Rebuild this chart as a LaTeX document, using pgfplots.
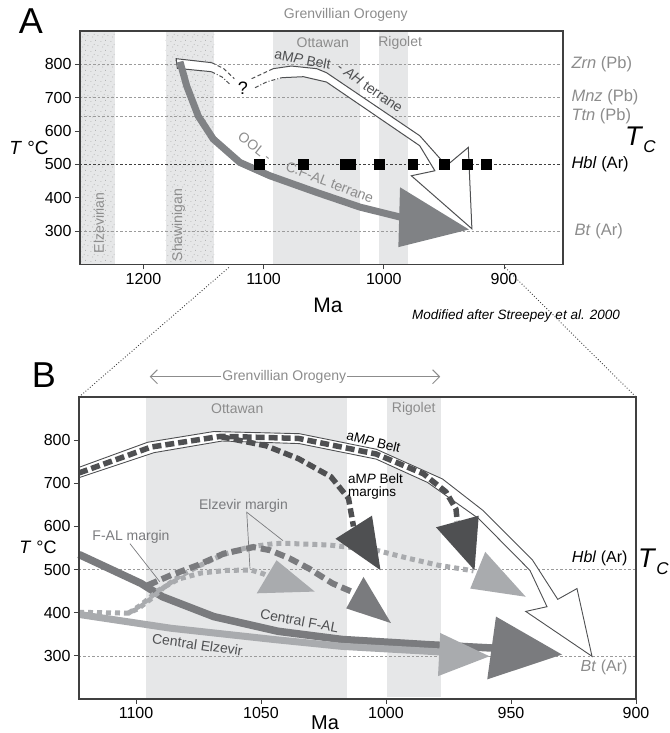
\documentclass[border=0pt]{standalone}
\usepackage{pgfplots}
\pgfplotsset{compat=1.18}
\usepackage{fontspec}
\setmainfont{Liberation Sans}
\usetikzlibrary{arrows.meta,patterns}
\definecolor{band}{HTML}{E6E7E8}
\definecolor{reflin}{HTML}{9B9B9B}
\definecolor{txtgray}{HTML}{8C8C8C}
\definecolor{dkg}{HTML}{4F5052}
\definecolor{mdg}{HTML}{7A7B7E}
\definecolor{ltg}{HTML}{A9ABAE}
\definecolor{agray}{HTML}{808285}
\definecolor{axg}{HTML}{404040}
\pgfdeclarepatternformonly{sparsedots}{\pgfqpoint{0pt}{0pt}}{\pgfqpoint{10pt}{10pt}}{\pgfqpoint{10pt}{10pt}}{%
  \pgfpathcircle{\pgfqpoint{1pt}{1.5pt}}{0.4pt}%
  \pgfpathcircle{\pgfqpoint{6pt}{3pt}}{0.4pt}%
  \pgfpathcircle{\pgfqpoint{3pt}{6.5pt}}{0.4pt}%
  \pgfpathcircle{\pgfqpoint{8.5pt}{8pt}}{0.4pt}%
  \pgfpathcircle{\pgfqpoint{4.5pt}{9.5pt}}{0.4pt}%
  \pgfusepath{fill}}
\newcommand{\fs}[1]{\fontsize{#1}{#1}\selectfont}
\begin{document}
\begin{tikzpicture}
\useasboundingbox (0pt,0pt) rectangle (669pt,-733pt);
\pgfplotsset{base/.style={scale only axis, x dir=reverse, ymin=200, ymax=900, clip=false,
  axis line style={axg, line width=1.2pt}, tick style={axg, line width=0.9pt},
  tick align=outside, major tick length=5pt, tick pos=left,
  tick label style={font=\fs{16}},
  /pgf/number format/assume math mode=true,
  /pgf/number format/set thousands separator={},
  ytick={300,400,...,800}, axis on top}}

% ================= PANEL A =================
\begin{axis}[base, at={(80pt,-31pt)}, anchor=north west, width=483pt, height=233.5pt,
  xmin=850.9, xmax=1252.8, xtick={900,1000,1100,1200}]
% bands
\addplot[draw=none, fill=band] coordinates {(1252.8,200)(1224,200)(1224,900)(1252.8,900)};
\addplot[draw=none, pattern=sparsedots, pattern color=gray] coordinates {(1252.8,200)(1224,200)(1224,900)(1252.8,900)};
\addplot[draw=none, fill=band] coordinates {(1181.5,200)(1141,200)(1141,900)(1181.5,900)};
\addplot[draw=none, pattern=sparsedots, pattern color=gray] coordinates {(1181.5,200)(1141,200)(1141,900)(1181.5,900)};
\addplot[draw=none, fill=band] coordinates {(1092,200)(1020,200)(1020,900)(1092,900)};
\addplot[draw=none, fill=band] coordinates {(1004,200)(980,200)(980,900)(1004,900)};
% reference lines
\addplot[reflin, dash pattern=on 2.5pt off 2pt, line width=0.6pt] coordinates {(1252.8,800)(850.9,800)};
\addplot[reflin, dash pattern=on 2.5pt off 2pt, line width=0.6pt] coordinates {(1252.8,700)(850.9,700)};
\addplot[reflin, dash pattern=on 2.5pt off 2pt, line width=0.6pt] coordinates {(1252.8,645)(850.9,645)};
\addplot[reflin, dash pattern=on 2.5pt off 2pt, line width=0.6pt] coordinates {(1252.8,300)(850.9,300)};
\addplot[black!75, dash pattern=on 2.5pt off 2pt, line width=0.8pt] coordinates {(1252.8,500)(850.9,500)};
% band labels
\node[txtgray, font=\fs{14}] at (axis cs:1050.8,865) {Ottawan};
\node[txtgray, font=\fs{14}] at (axis cs:986.4,865) {Rigolet};
\node[txtgray, font=\fs{14}, rotate=90] at (axis cs:1237,325) {Elzevirian};
\node[txtgray, font=\fs{14}, rotate=90] at (axis cs:1170.8,318) {Shawinigan};
% white outlined arrow (aMP Belt - AH terrane)
\addplot[draw=none, fill=white] coordinates {(1172.8,817)(1143.2,805)(1124.4,755)(1110,757)(1092.1,787)(1077,795)(1055.8,787)(1047.7,775)(970.1,586)(947.9,496)(929.7,551)(926.7,307)(977.1,466)(957.5,481)(970.1,556)(1047.7,747)(1066.9,763)(1085,760)(1107.2,730)(1127.4,735)(1143.5,778)(1171.8,788)};
\addplot[dkg, line width=1pt, line join=miter] coordinates {(1092.1,787)(1077,795)(1055.8,787)(1047.7,775)(970.1,586)(947.9,496)(929.7,551)(926.7,307)(977.1,466)(957.5,481)(970.1,556)(1047.7,747)(1066.9,763)(1085,760)};
\addplot[dkg, line width=1pt] coordinates {(1143.2,805)(1172.8,817)(1171.8,788)(1143.5,778)};
\addplot[dkg, line width=1pt, dash pattern=on 4pt off 2.5pt] coordinates {(1143.2,805)(1133.5,788)(1124.4,757)};
\addplot[dkg, line width=1pt, dash pattern=on 4pt off 2pt on 1pt off 2pt] coordinates {(1143.5,778)(1134.5,762)(1127.4,738)};
\addplot[dkg, line width=1pt, dash pattern=on 4pt off 2.5pt] coordinates {(1110,757)(1101,772)(1092.1,787)};
\addplot[dkg, line width=1pt, dash pattern=on 4pt off 2pt on 1pt off 2pt] coordinates {(1107.2,730)(1097,748)(1085,760)};
\node[font=\fs{18}] at (axis cs:1117.3,727) {?};
% gray thick arrow (OOL - C.F-AL terrane)
\addplot[agray, line width=7pt, line join=round] coordinates {(1169.6,808)(1164,735)(1154.4,645)(1141.9,576)(1119.8,506)(1094.8,466)(1055.8,416)(1019.8,372)(986.2,342)(976,336)};
\addplot[draw=none, fill=agray] coordinates {(986.5,431.5)(929.2,305)(987.9,252)};
% Ar closure data
\addplot[only marks, mark=square*, mark size=4.8pt, black] coordinates {(1103.9,500)(1067.3,500)(1032.4,500)(1027.4,500)(1003.9,500)(975.8,500)(949.8,500)(930.6,500)(915,500)};
% path labels
\node[dkg, font=\fs{14}, rotate=-11] at (axis cs:1067.5,815) {aM\textit{P} Belt};
\node[dkg, font=\fs{14}, rotate=-35] at (axis cs:1011.5,730) {- \textit{AH} terrane};
\node[txtgray, font=\fs{14}, rotate=-38] at (axis cs:1107.2,553) {OOL -};
\node[txtgray, font=\fs{14}, rotate=-21] at (axis cs:1045,446) {C.F-AL terrane};
% right labels
\node[txtgray, anchor=west, font=\fs{16.5}] at (axis cs:850.9,800) {\hspace{5pt}\textit{Zrn} (Pb)};
\node[txtgray, anchor=west, font=\fs{16.5}] at (axis cs:850.9,700) {\hspace{5pt}\textit{Mnz} (Pb)};
\node[txtgray, anchor=west, font=\fs{16.5}] at (axis cs:850.9,645) {\hspace{5pt}\textit{Ttn} (Pb)};
\node[black, anchor=west, font=\fs{16.5}] at (axis cs:850.9,500) {\hspace{5pt}\textit{Hbl} (Ar)};
\node[txtgray, anchor=west, font=\fs{16.5}] at (axis cs:850.9,300) {\hspace{8pt}\textit{Bt} (Ar)};
\node[anchor=west, font=\fs{27}, inner sep=0pt] at (axis cs:850.9,575) {\hspace{62pt}\textit{T}\raisebox{-7pt}{\fs{17}\textit{C}}};
\node[txtgray, font=\fs{14}] at (axis cs:1031.6,949) {Grenvillian Orogeny};
\coordinate (Al) at (axis cs:1129,200);
\coordinate (Ar) at (axis cs:899,200);
\end{axis}
\node[font=\fs{36}] at (31pt,-21pt) {A};
\node[font=\fs{21}] at (328pt,-305pt) {Ma};
\node[font=\fs{19}] at (29pt,-148pt) {\textit{T} °C};
\node[font=\fs{13.5}\itshape] at (516pt,-316pt) {Modified after Streepey et al. 2000};

% ================= PANEL B =================
\begin{axis}[base, at={(79pt,-397pt)}, anchor=north west, width=557pt, height=302pt,
  xmin=900, xmax=1122.8, xtick={900,950,1000,1050,1100}]
\addplot[draw=none, fill=band] coordinates {(1095.9,200)(1015.6,200)(1015.6,900)(1095.9,900)};
\addplot[draw=none, fill=band] coordinates {(999.7,205)(977.8,205)(977.8,900)(999.7,900)};
\addplot[reflin, dash pattern=on 2.5pt off 2pt, line width=0.6pt] coordinates {(1122.8,500)(900,500)};
\addplot[reflin, dash pattern=on 2.5pt off 2pt, line width=0.6pt] coordinates {(1122.8,300)(900,300)};
\node[txtgray, font=\fs{14}] at (axis cs:1059.5,872) {Ottawan};
\node[txtgray, font=\fs{14}] at (axis cs:988.9,872) {Rigolet};
% Central F-AL
\addplot[mdg, line width=7.5pt, line join=round] coordinates {(1122.8,535)(1098,468)(1089.4,437)(1068.9,391)(1043.2,357)(1017.6,338)(983.4,326)(957,318)};
\addplot[draw=none, fill=mdg] coordinates {(956,391)(929.6,303)(959.5,245.5)};
% Central Elzevir
\addplot[ltg, line width=7pt, line join=round] coordinates {(1122.8,396)(1086,364)(1045,338)(1017.6,322)(978,309)};
\addplot[draw=none, fill=ltg] coordinates {(978.3,353)(958.6,299)(979.2,253)};
% Elzevir margin (upper, dotted)
\addplot[ltg, line width=5pt, dash pattern=on 5pt off 4pt] coordinates {(1122.8,401)(1103,399)(1099,410)(1094,432)(1089,458)(1083,483)(1075,508)(1065,535)(1055,552)(1045,560)(1041,561)(1023,557)(1004,545)(991,526)(979,510)(965,497)};
\addplot[draw=none, fill=ltg] coordinates {(966.3,456)(960.3,541)(944.1,437)};
% Elzevir margin (lower, dotted)
\addplot[ltg, line width=5pt, dash pattern=on 5pt off 4pt] coordinates {(1103,399)(1098,418)(1091,452)(1083,478)(1074,492)(1064,498)(1054,499)(1049,490)(1047,484)};
\addplot[draw=none, fill=ltg] coordinates {(1051.7,445)(1043.8,521.6)(1028.5,449)};
% F-AL margin (dashed)
\addplot[mdg, line width=6pt, dash pattern=on 10pt off 5pt] coordinates {(1095.2,464)(1086,487)(1075.4,510)(1064.9,537)(1053,552)(1046.5,545)(1038.6,526)(1030.7,502)(1021.4,468)(1013,447)};
\addplot[draw=none, fill=mdg] coordinates {(1015.9,410)(1009,483)(998,376)};
% aMP Belt white outlined arrow
\addplot[dkg, line width=0.9pt, fill=white] coordinates {(1122.8,737)(1095.4,795)(1068.9,820)(1034.7,815)(1003.9,779)(977.4,710)(961.2,637)(941.5,523)(931.3,431)(923.6,456)(917.6,299)(944.1,403)(935.6,414)(942.4,498)(962.9,618)(983.4,702)(1003.9,756)(1034.7,792)(1065.5,798)(1092.8,771)(1122.8,713)};
\addplot[dkg, line width=5.5pt, dash pattern=on 9pt off 4pt] coordinates {(1122.8,724)(1094,784)(1066,809)(1035,804)(1004,768)(985,722)(976,680)(972,640)(971.5,612)};
\addplot[draw=none, fill=dkg] coordinates {(980,598)(962.9,625)(964.6,498.6)};
\addplot[dkg, line width=5.5pt, dash pattern=on 9pt off 4pt] coordinates {(1066,808)(1048,787)(1035,757)(1022,715)(1015,665)(1013,600)};
\addplot[draw=none, fill=dkg] coordinates {(1020.2,571.5)(1005.6,625)(1002.2,498.6)};
% leaders
\addplot[mdg, line width=0.7pt] coordinates {(1102.4,560)(1090.5,472)};
\addplot[mdg, line width=0.7pt] coordinates {(1054.4,502)(1055.7,633)(1041.2,567)};
% labels
\node[black, font=\fs{13.5}, rotate=-14] at (axis cs:1005,797) {aM\textit{P} Belt};
\node[black, font=\fs{13.5}, anchor=west, align=left, inner sep=1pt] at (axis cs:1015.6,693) {aM\textit{P} Belt\\margins};
\node[mdg, font=\fs{14}] at (axis cs:1057,648) {Elzevir margin};
\node[mdg, font=\fs{14}] at (axis cs:1102,575) {F-AL margin};
\node[dkg, font=\fs{14}, rotate=-10.5] at (axis cs:1034.6,381) {Central F-AL};
\node[dkg, font=\fs{14}, rotate=-8] at (axis cs:1075.4,326) {Central Elzevir};
\node[black, anchor=south east, font=\fs{16}] at (axis cs:902,500) {\textit{Hbl} (Ar)};
\node[txtgray, anchor=north east, font=\fs{16}] at (axis cs:902,298) {\textit{Bt} (Ar)};
\node[anchor=west, font=\fs{27}, inner sep=0pt] at (axis cs:900,518) {\hspace{2pt}\textit{T}\raisebox{-7pt}{\fs{17}\textit{C}}};
\addplot[txtgray, line width=1pt, {Straight Barb[length=7pt,width=14pt]}-{Straight Barb[length=7pt,width=14pt]}] coordinates {(1094.5,947)(978.3,947)};
\node[txtgray, fill=white, inner sep=1pt, font=\fs{14}] at (axis cs:1040.7,947) {Grenvillian Orogeny};
\coordinate (Bl) at (axis cs:1122.8,900);
\coordinate (Br) at (axis cs:900,900);
\end{axis}
\node[font=\fs{36}] at (44pt,-375pt) {B};
\node[font=\fs{20}] at (325pt,-723pt) {Ma};
\node[font=\fs{18}] at (38pt,-547pt) {\textit{T} °C};
\draw[axg, line width=0.9pt, dotted] ([yshift=-3pt]Al) -- (Bl);
\draw[axg, line width=0.9pt, dotted] ([yshift=-3pt]Ar) -- (Br);
\end{tikzpicture}
\end{document}
